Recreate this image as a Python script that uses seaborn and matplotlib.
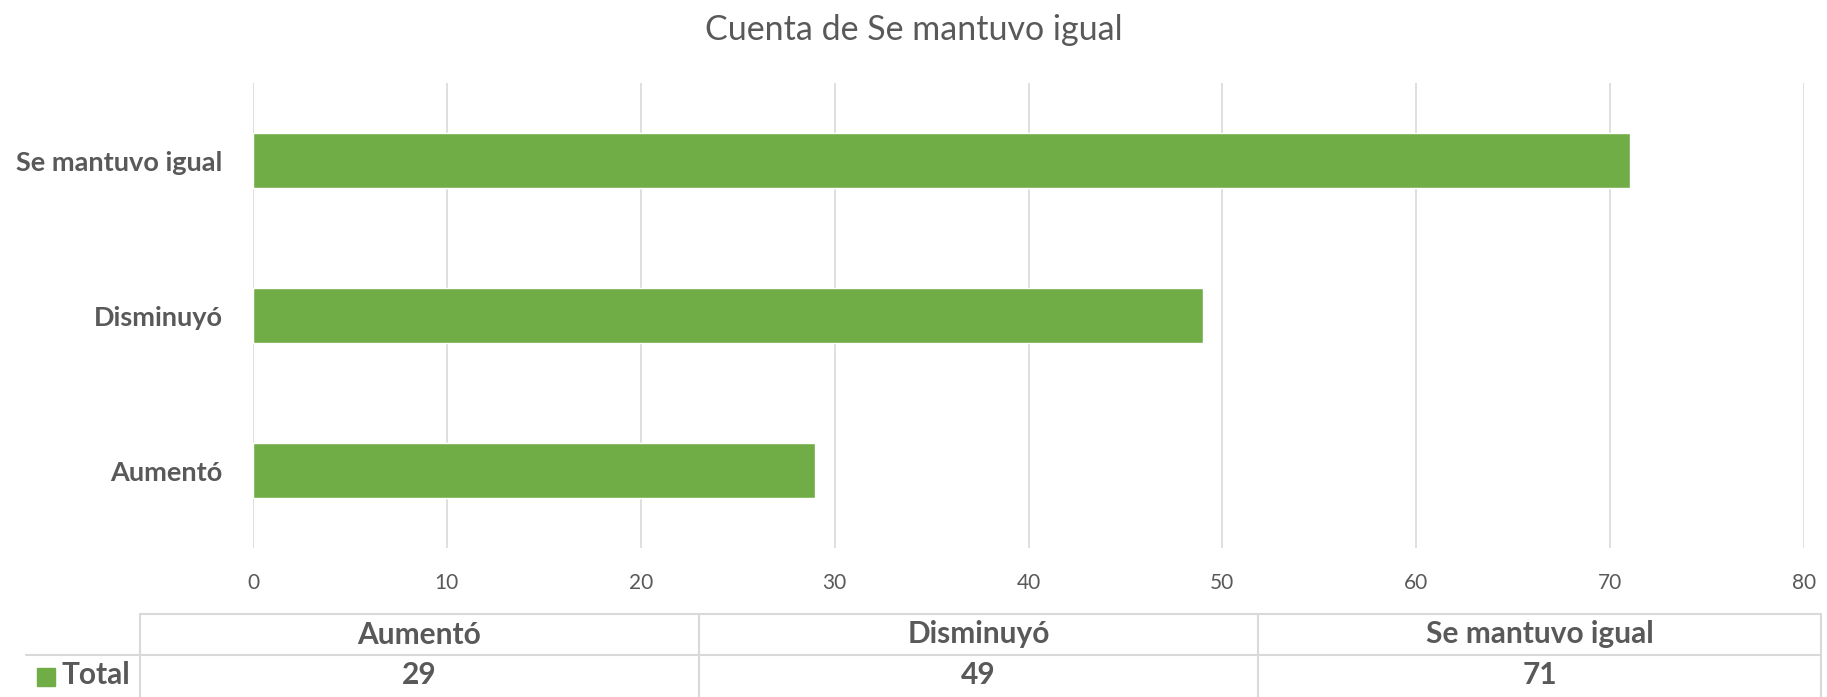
import matplotlib
matplotlib.use("Agg")
import matplotlib.pyplot as plt
import seaborn as sns
import pandas as pd

categories = ["Aumentó", "Disminuyó", "Se mantuvo igual"]
values = [29, 49, 71]
series_name = "Total"
title = "Cuenta de Se mantuvo igual"
xticks = [0, 10, 20, 30, 40, 50, 60, 70, 80]

green = "#70AD47"
grey_text = "#595959"
grid_col = "#D9D9D9"

df = pd.DataFrame({"cat": categories, "val": values})

sns.set_theme(style="white")
plt.rcParams["font.family"] = ["Lato", "DejaVu Sans"]

W, H = 1827, 697
fig = plt.figure(figsize=(W / 100, H / 100), dpi=100)

ax = fig.add_axes([253 / W, 1 - 548 / H, (1804 - 253) / W, (548 - 83) / H])
sns.barplot(data=df, x="val", y="cat", order=categories[::-1], orient="h",
            color=green, saturation=1, width=0.355, ax=ax)
ax.set_xlim(0, 80)
ax.set_ylim(2.5, -0.5)
ax.set_xticks(xticks)
ax.set_xticklabels([str(t) for t in xticks], fontsize=15, color=grey_text)
ax.set_yticklabels(categories[::-1], fontsize=19.5, fontweight="bold", color=grey_text)
ax.xaxis.grid(True, color=grid_col, linewidth=1.2)
ax.set_axisbelow(True)
for s in ax.spines.values():
    s.set_visible(False)
ax.tick_params(axis="x", length=0, pad=18)
ax.tick_params(axis="y", length=0, pad=22)
ax.set_xlabel("")
ax.set_ylabel("")

fig.text(0.5, 1 - 30 / H, title, ha="center", va="center", fontsize=24.5, color=grey_text)

# data table below the chart
tax = fig.add_axes([0, 0, 1, 1], zorder=-1)
tax.set_xlim(0, W)
tax.set_ylim(H, 0)
tax.axis("off")
col_edges = [140, 699, 1258, 1821]
top, mid, bot = 614, 655, 700
lc = "#D9D9D9"
tax.plot([col_edges[0], col_edges[-1]], [top, top], color=lc, lw=1.5)
tax.plot([26, col_edges[-1]], [mid, mid], color=lc, lw=1.5)
for xe in col_edges:
    tax.plot([xe, xe], [top, bot], color=lc, lw=1.5)
for i, (c, v) in enumerate(zip(categories, values)):
    xc = (col_edges[i] + col_edges[i + 1]) / 2
    tax.text(xc, (top + mid) / 2, c, ha="center", va="center", fontsize=21.5,
             fontweight="bold", color=grey_text)
    tax.text(xc, (mid + bot) / 2 - 2, str(v), ha="center", va="center", fontsize=21.5,
             fontweight="bold", color=grey_text)
tax.add_patch(plt.Rectangle((37, 668), 18, 18, color=green))
tax.text(62, (mid + bot) / 2 - 2, series_name, ha="left", va="center", fontsize=21.5,
         fontweight="bold", color=grey_text)

fig.savefig("out.png", dpi=100)
